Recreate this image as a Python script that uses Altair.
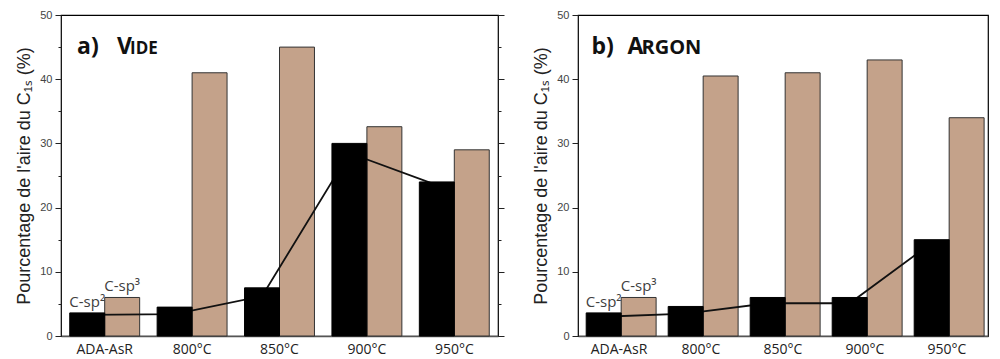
import altair as alt
import pandas as pd

categories = ["ADA-AsR", "800°C", "850°C", "900°C", "950°C"]
series = ["C-sp²", "C-sp³"]

vide_sp2 = [3.6, 4.5, 7.5, 30.0, 24.0]
vide_sp3 = [6.0, 41.0, 45.0, 32.6, 29.0]
vide_trend = [3.3, 3.4, 6.2, 28.5, 23.5]

argon_sp2 = [3.6, 4.6, 6.0, 6.0, 15.0]
argon_sp3 = [6.0, 40.5, 41.0, 43.0, 34.0]
argon_trend = [3.0, 3.5, 5.1, 5.1, 14.5]

y_ticks = [0, 5, 10, 15, 20, 25, 30, 35, 40, 45, 50]
y_title = "Pourcentage de l'aire du C₁ₛ (%)"

BLACK = "#000000"
TAN = "#C4A28A"


def panel(sp2, sp3, trend, title_parts, width, height, right_axis=True):
    bars = pd.DataFrame({
        "cat": categories * 2,
        "serie": [series[0]] * len(categories) + [series[1]] * len(categories),
        "val": sp2 + sp3,
    })
    line_df = pd.DataFrame({
        "cat": categories,
        "idx": list(range(len(categories))),
        "serie": [series[0]] * len(categories),
        "val": trend,
    })
    lab_df = pd.DataFrame({
        "cat": [categories[0]] * 2,
        "serie": series,
        "val": [sp2[0], sp3[0]],
    })

    xscale = alt.Scale(domain=categories, paddingInner=0.2, paddingOuter=0.1)
    xo = alt.XOffset("serie:N", scale=alt.Scale(domain=series))
    yscale = alt.Scale(domain=[0, 50], nice=False)

    x_axis = alt.Axis(title=None, labelAngle=0, ticks=False, domain=True,
                      domainColor="#555555", domainWidth=1.5,
                      labelFont="Open Sans", labelFontSize=14,
                      labelColor="#222222", labelPadding=6)
    tick_size = {"condition": {"test": "datum.value % 10 != 0", "value": 3}, "value": 6}
    y_axis = alt.Axis(orient="left", values=y_ticks, grid=False, domain=False,
                      labelExpr="datum.value % 10 == 0 ? datum.label : ''",
                      tickSize=tick_size, tickColor="#222222",
                      labelFont="Liberation Sans", labelFontSize=11, labelColor="#444444",
                      labelPadding=3, title=y_title, titleFont="Liberation Sans",
                      titleFontSize=18, titleFontWeight="normal", titleColor="#222222",
                      titlePadding=6)
    y_axis_r = alt.Axis(orient="right", values=y_ticks, grid=False, domain=False,
                        labels=False, tickSize=tick_size, tickColor="#222222", title=None)

    def X(**kw):
        return alt.X("cat:N", scale=xscale, **kw)

    def Y():
        # with two y axes the guides are independent, so the other layers switch theirs off;
        # with one shared axis the other layers leave it unspecified
        if right_axis:
            return alt.Y("val:Q", scale=yscale, axis=None)
        return alt.Y("val:Q", scale=yscale)

    tan = alt.Chart(bars).transform_filter(
        alt.datum.serie == series[1]
    ).mark_bar(color=TAN, stroke="#333333", strokeWidth=1).encode(
        x=X(axis=x_axis),
        xOffset=xo,
        y=alt.Y("val:Q", scale=yscale, axis=y_axis),
    )
    line = alt.Chart(line_df).mark_line(color="#111111", strokeWidth=1.8).encode(
        x=X(),
        xOffset=xo,
        y=alt.Y("val:Q", scale=yscale, axis=y_axis_r) if right_axis else Y(),
        order=alt.Order("idx:Q"),
    )
    black = alt.Chart(bars).transform_filter(
        alt.datum.serie == series[0]
    ).mark_bar(color=BLACK, stroke=BLACK, strokeWidth=1).encode(
        x=X(),
        xOffset=xo,
        y=Y(),
    )
    labels = alt.Chart(lab_df).mark_text(
        font="Open Sans", fontSize=15, color="#404040", baseline="alphabetic", dy=-6
    ).encode(
        x=X(),
        xOffset=xo,
        y=Y(),
        text="serie:N",
    )
    layers = [tan, line, black, labels]
    for txt, size, dx in title_parts:
        t_df = pd.DataFrame({"cat": [categories[0]], "val": [44.0], "txt": [txt]})
        layers.append(
            alt.Chart(t_df).mark_text(
                font="Open Sans", fontWeight="bold", fontSize=size, color="#111111",
                align="left", baseline="alphabetic", dx=dx
            ).encode(
                x=X(bandPosition=0),
                y=Y(),
                text="txt:N",
            )
        )
    return alt.layer(*layers).properties(width=width, height=height)


left = panel(vide_sp2, vide_sp3, vide_trend,
             [("a)", 23, 7.3), ("V", 23, 47.3), ("IDE", 17, 60.3)], 437, 321)
right = panel(argon_sp2, argon_sp3, argon_trend,
              [("b)", 23, 5.3), ("A", 23, 41.3), ("RGON", 20, 55.3)], 410, 321,
              right_axis=False)

chart = alt.hconcat(left, right, spacing=26).properties(
    padding={"left": 7, "top": 0, "right": 0, "bottom": 0}
).configure_view(stroke="#000000", strokeWidth=1.2)

chart.save("out.html", embed_options={"renderer": "svg", "actions": False})
